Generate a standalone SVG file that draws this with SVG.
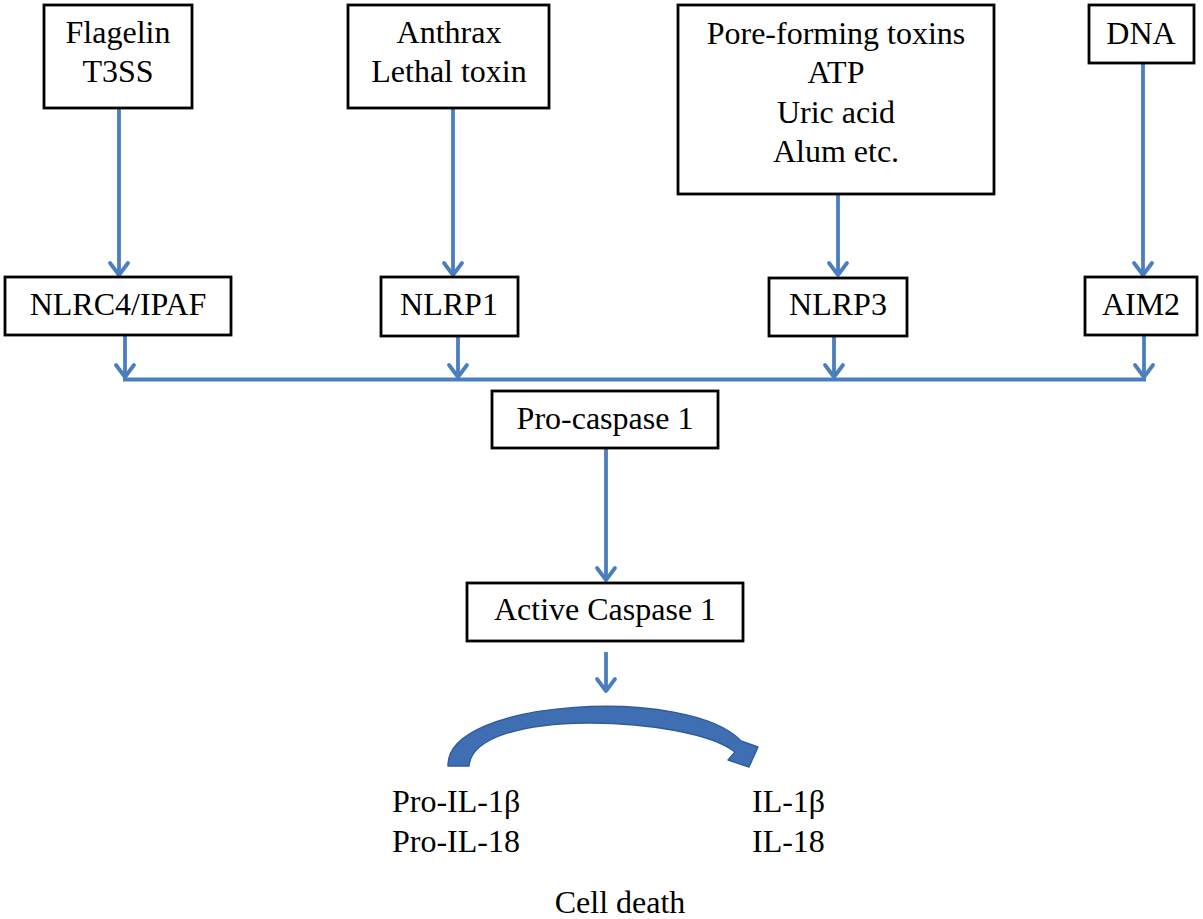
<svg xmlns="http://www.w3.org/2000/svg" width="1203" height="919" viewBox="0 0 1203 919">
<style>
.box{fill:#fff;stroke:#000;stroke-width:2.8}
.t{font-family:"Liberation Serif","Times New Roman",serif;font-size:32px;fill:#000;text-anchor:middle}
.ts{font-family:"Liberation Serif","Times New Roman",serif;font-size:32px;fill:#000}
.c{fill:none;stroke:#4A7EBF;stroke-width:3.8}
</style>
<defs>
<marker id="v" viewBox="-10 -14 20 16" markerWidth="20" markerHeight="16" markerUnits="userSpaceOnUse" refX="0" refY="0" orient="auto" overflow="visible">
<path d="M -9 -12 L 0 0 L 9 -12" fill="none" stroke="#4A7EBF" stroke-width="3.8" stroke-linecap="round" stroke-linejoin="round" transform="rotate(-90)"/>
</marker>
</defs>
<rect width="1203" height="919" fill="#fff"/>
<g id="connectors">
<line class="c" x1="119" y1="108" x2="119" y2="275" marker-end="url(#v)"/>
<line class="c" x1="453" y1="108" x2="453" y2="275" marker-end="url(#v)"/>
<line class="c" x1="838" y1="194" x2="838" y2="275" marker-end="url(#v)"/>
<line class="c" x1="1143" y1="63" x2="1143" y2="275" marker-end="url(#v)"/>
<line class="c" x1="125" y1="335" x2="125" y2="377" marker-end="url(#v)"/>
<line class="c" x1="458" y1="336" x2="458" y2="377" marker-end="url(#v)"/>
<line class="c" x1="834" y1="336" x2="834" y2="377" marker-end="url(#v)"/>
<line class="c" x1="1144" y1="335" x2="1144" y2="377" marker-end="url(#v)"/>
<line class="c" x1="123" y1="379.5" x2="1146" y2="379.5"/>
<line class="c" x1="606" y1="448" x2="606" y2="580" marker-end="url(#v)"/>
<line class="c" x1="606" y1="652" x2="606" y2="691" marker-end="url(#v)"/>
<path d="M 448 766 C 446 698 690 686 741 741 L 758 747 L 749 767 L 728 760 L 735 752 C 690 716 474 706 469 766 Z" fill="#3F6FB2" stroke="#2F5C9C" stroke-width="1.4" stroke-linejoin="round"/>
</g>
<g id="n-flagelin"><rect class="box" x="44" y="5" width="148" height="103"/><text class="t" x="118" y="43">Flagelin</text><text class="t" x="118" y="82">T3SS</text></g>
<g id="n-anthrax"><rect class="box" x="348" y="5" width="201" height="103"/><text class="t" x="449" y="43">Anthrax</text><text class="t" x="449" y="82">Lethal toxin</text></g>
<g id="n-pore"><rect class="box" x="678" y="5" width="316" height="189"/><text class="t" x="836" y="44">Pore-forming toxins</text><text class="t" x="836" y="83">ATP</text><text class="t" x="836" y="123">Uric acid</text><text class="t" x="836" y="162">Alum etc.</text></g>
<g id="n-dna"><rect class="box" x="1089" y="5" width="105" height="58"/><text class="t" x="1141" y="44">DNA</text></g>
<g id="n-nlrc4"><rect class="box" x="5" y="277" width="226" height="58"/><text class="t" x="118" y="315">NLRC4/IPAF</text></g>
<g id="n-nlrp1"><rect class="box" x="381" y="277" width="137" height="59"/><text class="t" x="449" y="315">NLRP1</text></g>
<g id="n-nlrp3"><rect class="box" x="769" y="278" width="138" height="58"/><text class="t" x="838" y="315">NLRP3</text></g>
<g id="n-aim2"><rect class="box" x="1085" y="277" width="112" height="58"/><text class="t" x="1141" y="315">AIM2</text></g>
<g id="n-procasp"><rect class="box" x="492" y="391" width="226" height="57"/><text class="t" x="605" y="429">Pro-caspase 1</text></g>
<g id="n-active"><rect class="box" x="467" y="583" width="276" height="58"/><text class="t" x="605" y="620">Active Caspase 1</text></g>
<g id="n-pro-il"><text class="ts" x="392" y="812">Pro-IL-1β</text><text class="ts" x="392" y="852">Pro-IL-18</text></g>
<g id="n-il"><text class="ts" x="752" y="812">IL-1β</text><text class="ts" x="752" y="852">IL-18</text></g>
<g id="n-death"><text class="t" x="620" y="913">Cell death</text></g>
</svg>
